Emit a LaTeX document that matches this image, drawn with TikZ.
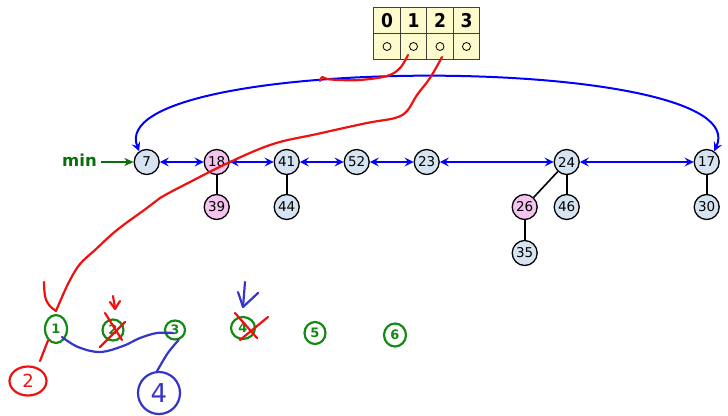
\documentclass[tikz,border=0pt]{standalone}
\usepackage{fontspec}
\setsansfont{DejaVu Sans}
\newfontfamily\condbold{DejaVu Sans Condensed Bold}
\usetikzlibrary{arrows.meta,shapes.geometric}
\definecolor{keyblue}{HTML}{D6E4F2}
\definecolor{keypink}{HTML}{F2C4EE}
\definecolor{cellyellow}{HTML}{FDFBCB}
\definecolor{mingreen}{HTML}{0B6E0B}
\definecolor{inkgreen}{HTML}{138A13}
\definecolor{inkblue}{HTML}{3535C8}
\definecolor{inkred}{HTML}{F01010}
\begin{document}
\begin{tikzpicture}[x=1pt,y=-1pt,
  key/.style={circle,draw=black,line width=1.3pt,fill=keyblue,minimum size=25pt,
    inner sep=0pt,font=\sffamily\fontsize{13.5}{14}\selectfont},
  marked/.style={key,fill=keypink},
  sib/.style={blue,line width=2pt,
    {Stealth[length=9pt,width=9pt,inset=3.5pt]}-{Stealth[length=9pt,width=9pt,inset=3.5pt]}},
  treeedge/.style={black,line width=1.6pt},
  cell/.style={draw=black!75,line width=1pt,fill=cellyellow,minimum width=26.5pt,
    minimum height=26pt,inner sep=0pt,font=\condbold\fontsize{19}{19}\selectfont},
  ptr/.style={circle,draw=black,line width=0.8pt,minimum size=8pt,inner sep=0pt},
  ink/.style={line width=2.2pt,line cap=round,line join=round},
  digit/.style={ellipse,draw=inkgreen,ink,text=inkgreen,inner sep=0pt,
    font=\sffamily\bfseries\fontsize{13}{13}\selectfont},
]
\useasboundingbox (0,0) rectangle (728,415);

% degree array
\foreach \i/\x in {0/387,1/413.5,2/440,3/466.5}{
  \node[cell] (c\i) at (\x,20.5) {\i};
  \node[cell] (d\i) at (\x,46.5) {};
  \node[ptr] (p\i) at (\x,46.5) {};
}

% root list
\node[key]    (n7)  at (146.7,162) {7};
\node[marked] (n18) at (216.7,162) {18};
\node[key]    (n41) at (286.7,162) {41};
\node[key]    (n52) at (356.7,162) {52};
\node[key]    (n23) at (426.7,162) {23};
\node[key]    (n24) at (566.7,162) {24};
\node[key]    (n17) at (706.7,162) {17};

% children
\node[marked] (n39) at (216.7,207) {39};
\node[key]    (n44) at (286.7,207) {44};
\node[marked] (n26) at (524.7,207) {26};
\node[key]    (n46) at (566.7,207) {46};
\node[key]    (n30) at (706.7,207) {30};
\node[key]    (n35) at (524.7,253) {35};

\draw[treeedge] (n18) -- (n39);
\draw[treeedge] (n41) -- (n44);
\draw[treeedge] (n24) -- (n26);
\draw[treeedge] (n24) -- (n46);
\draw[treeedge] (n17) -- (n30);
\draw[treeedge] (n26) -- (n35);

% sibling pointers
\draw[sib] (n7) -- (n18);
\draw[sib] (n18) -- (n41);
\draw[sib] (n41) -- (n52);
\draw[sib] (n52) -- (n23);
\draw[sib] (n23) -- (n24);
\draw[sib] (n24) -- (n17);
\draw[sib] (n7.125) .. controls (100,52) and (760,52) .. (n17.55);

% min pointer
\node[font=\bfseries\sffamily\fontsize{16.5}{16.5}\selectfont,text=mingreen,anchor=east,inner sep=0pt]
  (minlbl) at (97,160) {min};
\draw[mingreen,line width=2pt,-{Stealth[length=9pt,width=8pt,inset=2.5pt]}]
  (minlbl.east) ++(4,2) coordinate (minstart) (minstart) -- (n7.west);

% handwritten annotations
\node[digit,minimum width=22pt,minimum height=28pt] (g1) at (56,329) {1};
\node[digit,minimum width=21pt,minimum height=21pt] (g2) at (113,330) {2};
\node[digit,minimum width=20pt,minimum height=19pt] (g3) at (175,330) {3};
\node[digit,minimum width=24pt,minimum height=22pt] (g4) at (243,328) {4};
\node[digit,minimum width=21pt,minimum height=22pt] (g5) at (315,333) {5};
\node[digit,minimum width=22pt,minimum height=23pt] (g6) at (395,335) {6};

\node[ellipse,draw=inkred,ink,text=inkred,minimum width=37pt,minimum height=29pt,
  inner sep=0pt,font=\sffamily\fontsize{18}{18}\selectfont] (r2) at (28,381) {2};
\node[circle,draw=inkblue,ink,text=inkblue,minimum size=42pt,inner sep=0pt,
  font=\sffamily\fontsize{26}{26}\selectfont] (b4) at (159,393) {4};

% red strokes from the array
\draw[inkred,ink] (p1.south) plot[smooth,tension=0.6] coordinates
  {(408,55) (400,68) (387,76) (360,80) (340,80) (327,79) (322,77) (320,81)};
\draw[inkred,ink] (p2.south) plot[smooth,tension=0.6] coordinates
  {(442,57) (430,78) (417,95) (407,111) (395,118) (367,123) (317,134)
   (273,144) (230,162) (190,182) (160,198) (147,208) (117,230) (95,250)
   (80,264) (70,280) (62,297) (56,311)};
\draw[inkred,ink] plot[smooth,tension=0.6] coordinates
  {(44,282) (45,296) (49,305) (56,311)};

% crossed-out entries
\draw[inkred,ink] (100,347) -- (125,322);
\draw[inkred,ink] (105,313) -- (122,340);
\draw[inkred,ink] (113,296) -- (115,308);
\draw[inkred,ink] (110,302) -- (115,309) -- (120,301);
\draw[inkred,ink] (235,313) -- (257,338);
\draw[inkred,ink] (240,340) -- (268,317);
\draw[inkblue,ink] (245,282) -- (243,307);
\draw[inkblue,ink] (238,292) -- (243,307) -- (258,293);

% links between trees
\coordinate (r2top) at (40,361);
\draw[inkred,ink] (g1.235) -- (r2top);
\draw[inkblue,ink] (g1.-40) plot[smooth,tension=0.6] coordinates
  {(62,337) (78,347) (100,352) (123,346) (140,338) (157,333) (173,333)};
\draw[inkblue,ink] (g3.-70) .. controls (168,352) .. (b4.95);
\end{tikzpicture}
\end{document}
